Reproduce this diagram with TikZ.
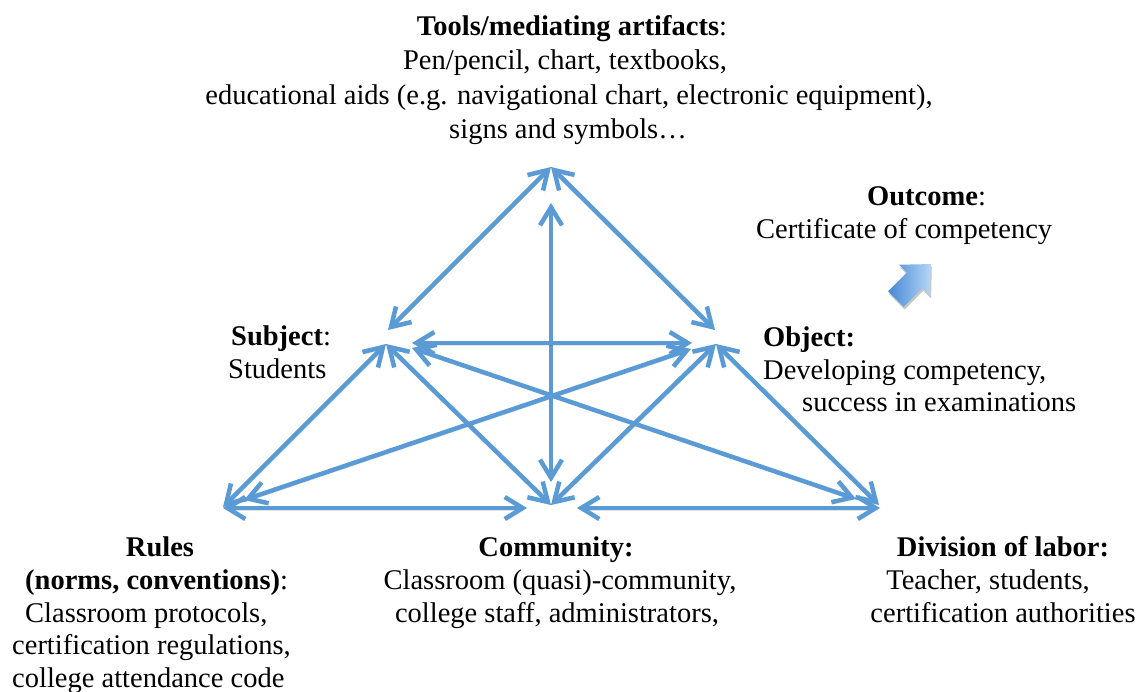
\documentclass[tikz,border=0pt]{standalone}
\usepackage{fontspec}
\setmainfont{Liberation Serif}
\usetikzlibrary{arrows.meta}
\definecolor{linkblue}{RGB}{91,155,213}
\definecolor{arrowdark}{RGB}{70,136,212}
\definecolor{arrowlight}{RGB}{182,214,247}

\begin{document}
\begin{tikzpicture}[x=1pt,y=-1pt,
  txt/.style={inner sep=0pt, font=\fontsize{28.5}{34}\selectfont},
  lc/.style={txt, anchor=base},
  ll/.style={txt, anchor=base west},
  barb/.tip={Straight Barb[length=18pt,width=22pt]},
  link/.style={draw=linkblue, line width=4.5pt, barb-barb,
    preaction={draw=black, opacity=.10, barb-barb,
      transform canvas={shift={(1.2pt,-2.2pt)}}}},
]
\useasboundingbox (0,0) rectangle (1147,692);

% ---- end points of the connectors ----
\coordinate (T)   at (551,167);
\coordinate (S)   at (386,344);
\coordinate (O)   at (716,344);
\coordinate (R)   at (223,507);
\coordinate (C)   at (551,505);
\coordinate (D)   at (879,505);
\coordinate (TS)  at (388,330);
\coordinate (TO)  at (715,330);
\coordinate (Vt)  at (551,203);
\coordinate (Vb)  at (551,482);
\coordinate (Hl)  at (412,343);
\coordinate (Hr)  at (692,343);
\coordinate (SDa) at (412,348);
\coordinate (SDb) at (856,499);
\coordinate (ORa) at (691,349);
\coordinate (ORb) at (244,500);
\coordinate (RCa) at (223,508);
\coordinate (RCb) at (527,508);
\coordinate (CDa) at (577,508);
\coordinate (CDb) at (880,508);

% ---- connectors ----
\draw[link] (T) -- (TS);
\draw[link] (T) -- (TO);
\draw[link] (Vt) -- (Vb);
\draw[link] (Hl) -- (Hr);
\draw[link] (S) -- (R);
\draw[link] (S) -- (C);
\draw[link] (O) -- (C);
\draw[link] (O) -- (D);
\draw[link] (SDa) -- (SDb);
\draw[link] (ORa) -- (ORb);
\draw[link] (RCa) -- (RCb);
\draw[link] (CDa) -- (CDb);

% ---- outcome arrow (block arrow pointing up-right) ----
\begin{scope}[shift={(915.5,283)}, rotate=45]
  \fill[black, opacity=.22]
    (-26.5,-11) -- (0,-11) -- (0,-22) -- (23,0) -- (0,22) -- (0,11) -- (-26.5,11) -- cycle;
\end{scope}
\begin{scope}[shift={(914.7,280.3)}, rotate=45]
  \shade[left color=arrowdark, right color=arrowlight]
    (-26.5,-11) -- (0,-11) -- (0,-22) -- (23,0) -- (0,22) -- (0,11) -- (-26.5,11) -- cycle;
\end{scope}

% ---- tools ----
\node[lc] (tools1) at (572,36)  {\textbf{Tools/mediating artifacts}:};
\node[lc] (tools2) at (565,70)  {Pen/pencil, chart, textbooks,};
\node[lc] (tools3) at (569,105) {educational aids (e.g. navigational chart, electronic equipment),};
\node[lc] (tools4) at (568,139) {signs and symbols…};

% ---- outcome ----
\node[ll] (out1) at (867,206) {\textbf{Outcome}:};
\node[ll] (out2) at (756,239) {Certificate of competency};

% ---- subject ----
\node[ll] (subj1) at (231,345) {\textbf{Subject}:};
\node[ll] (subj2) at (228,378) {Students};

% ---- object ----
\node[ll] (obj1) at (763,346) {\textbf{Object:}};
\node[ll] (obj2) at (763,379) {Developing competency,};
\node[ll] (obj3) at (802,411) {success in examinations};

% ---- rules ----
\node[lc] (rul1) at (160,556) {\textbf{Rules}};
\node[ll] (rul2) at (25,589)  {\textbf{(norms, conventions)}:};
\node[ll] (rul3) at (25,622)  {Classroom protocols,};
\node[ll] (rul4) at (12,654)  {certification regulations,};
\node[ll] (rul5) at (12,687)  {college attendance code};

% ---- community ----
\node[lc] (com1) at (556,556) {\textbf{Community:}};
\node[lc] (com2) at (560,589) {Classroom (quasi)-community,};
\node[lc] (com3) at (557,622) {college staff, administrators,};

% ---- division of labor ----
\node[lc] (div1) at (1003,556) {\textbf{Division of labor:}};
\node[lc] (div2) at (988,589)  {Teacher, students,};
\node[lc] (div3) at (1003,622) {certification authorities};
\end{tikzpicture}
\end{document}
